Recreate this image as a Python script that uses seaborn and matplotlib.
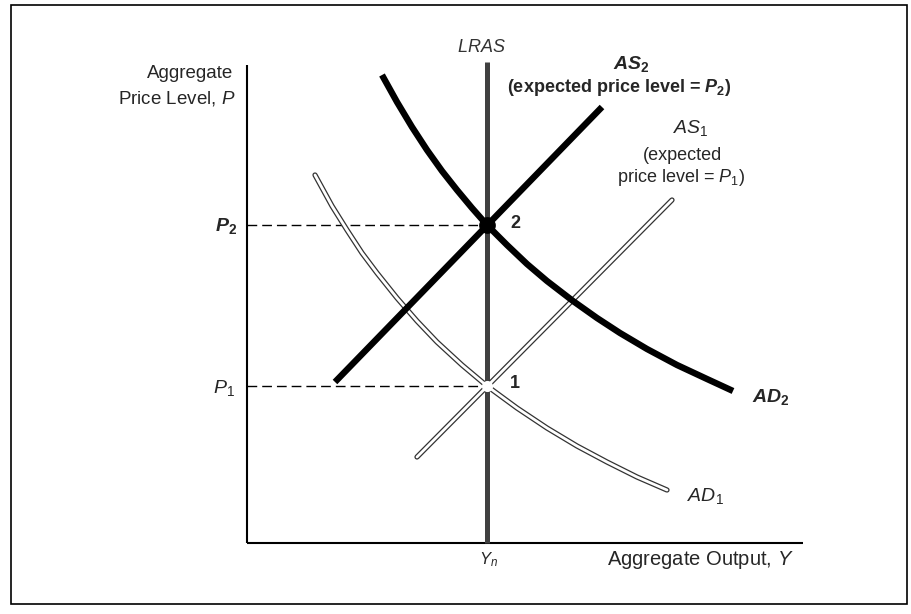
import matplotlib
matplotlib.use("Agg")
import matplotlib.pyplot as plt
import matplotlib.patheffects as pe
import numpy as np
import pandas as pd
import seaborn as sns

# ---------------- data (economic diagram, arbitrary units; origin = axes corner) --------------
y_natural = 240          # Y_n, position of LRAS
p1_level = 157           # P_1
p2_level = 318           # P_2
lras_top = 481
x_axis_end = 556
y_axis_top = 478

ad1_x = [68, 85, 100, 115, 130, 150, 170, 190, 215, 240, 270, 300, 330, 360, 390, 420]
ad1_y = [368, 337, 313, 290, 270, 245, 222, 201, 178, 157, 135, 115, 97, 81, 66, 53]

ad2_x = [135, 150, 165, 180, 195, 210, 225, 240, 260, 280, 300, 326, 350, 373, 400, 430, 460, 486]
ad2_y = [468, 441, 416, 393, 372, 353, 335, 318, 298, 279, 262, 242, 225, 210, 194, 178, 164, 152]

as1_x = [170, 425]
as1_y = [86, 343]

as2_x = [88, 355]
as2_y = [161, 436]

# ---------------- style ----------------
sns.set_theme(style="white")
plt.rcParams["font.family"] = ["Liberation Sans", "DejaVu Sans"]
plt.rcParams["mathtext.fontset"] = "custom"
plt.rcParams["mathtext.rm"] = "Liberation Sans"
plt.rcParams["mathtext.it"] = "Liberation Sans:italic"
plt.rcParams["mathtext.bf"] = "Liberation Sans:bold"
plt.rcParams["mathtext.bfit"] = "Liberation Sans:italic:bold"

fig = plt.figure(figsize=(9.11, 6.14), dpi=100)
ax = fig.add_axes([0, 0, 1, 1])
ax.set_xlim(-247, 664)
ax.set_ylim(-71, 543)
ax.axis("off")

# axes lines
ax.plot([0, 0], [0, y_axis_top], color="black", lw=1.5, solid_capstyle="butt")
ax.plot([0, x_axis_end], [0, 0], color="black", lw=1.5, solid_capstyle="butt")

# dashed guides
ax.plot([0, y_natural], [p2_level, p2_level], color="black", lw=1.0, dashes=(7, 3.6))
ax.plot([0, y_natural], [p1_level, p1_level], color="black", lw=1.0, dashes=(7, 3.6))

# LRAS
ax.plot([y_natural, y_natural], [0, lras_top], color="#404040", lw=3.6, solid_capstyle="butt")

double = [pe.Stroke(linewidth=3.8, foreground="#333333"), pe.Normal()]

df_ad1 = pd.DataFrame({"x": ad1_x, "y": ad1_y})
df_as1 = pd.DataFrame({"x": as1_x, "y": as1_y})
df_ad2 = pd.DataFrame({"x": ad2_x, "y": ad2_y})
df_as2 = pd.DataFrame({"x": as2_x, "y": as2_y})

sns.lineplot(data=df_as1, x="x", y="y", sort=False, ax=ax, color="white", lw=2.0,
             path_effects=double, estimator=None)
sns.lineplot(data=df_ad1, x="x", y="y", sort=False, ax=ax, color="white", lw=2.0,
             path_effects=double, estimator=None)
sns.lineplot(data=df_as2, x="x", y="y", sort=False, ax=ax, color="black", lw=4.6,
             estimator=None, solid_capstyle="butt")
sns.lineplot(data=df_ad2, x="x", y="y", sort=False, ax=ax, color="black", lw=4.6,
             estimator=None, solid_capstyle="butt", solid_joinstyle="round")

# equilibrium points
ax.plot([y_natural], [p2_level], "o", color="black", ms=11, zorder=10)
ax.plot([y_natural], [p1_level], "o", color="white", ms=8, mec="none", zorder=10)

ax.set_xlabel("")
ax.set_ylabel("")

fs = 13
# labels
ax.text(-14, 470, "Aggregate", ha="right", va="center", fontsize=13.5)
ax.text(-11, 445, r"Price Level, $P$", ha="right", va="center", fontsize=13.5)
ax.text(-10, 317, r"$\mathbfit{P}_\mathbf{2}$", ha="right", va="center", fontsize=fs + 1)
ax.text(-12, 155, r"$P_1$", ha="right", va="center", fontsize=fs + 1)
ax.text(y_natural + 2, -17, r"$Y_n$", ha="center", va="center", fontsize=12)
ax.text(360, -17, r"Aggregate Output, $Y$", ha="left", va="center", fontsize=14.5)
ax.text(234, 495, r"$LRAS$", ha="center", va="center", fontsize=13, color="#333333")
ax.text(384, 479, r"$\mathbfit{AS}_\mathbf{2}$", ha="center", va="center", fontsize=fs + 1)
ax.text(372, 456, r"(expected price level = $\mathbfit{P}_\mathbf{2}$)", ha="center", va="center",
        fontsize=fs, fontweight="bold")
ax.text(444, 415, r"$AS_1$", ha="center", va="center", fontsize=fs + 1)
ax.text(436, 388, "(expected", ha="center", va="center", fontsize=fs)
ax.text(434, 366, r"price level = $P_1$)", ha="center", va="center", fontsize=fs)
ax.text(505, 146, r"$\mathbfit{AD}_\mathbf{2}$", ha="left", va="center", fontsize=fs + 1)
ax.text(440, 47, r"$AD_1$", ha="left", va="center", fontsize=fs + 1)
ax.text(263, 319, "2", ha="left", va="center", fontsize=fs, fontweight="bold")
ax.text(263, 159, "1", ha="left", va="center", fontsize=fs, fontweight="bold")

# outer frame
fig.add_artist(plt.Rectangle((11 / 911, 1 - 604 / 614), (907 - 11) / 911, (604 - 5) / 614,
                             transform=fig.transFigure, fill=False, ec="black", lw=1.2))

fig.savefig("out.png", dpi=100)
